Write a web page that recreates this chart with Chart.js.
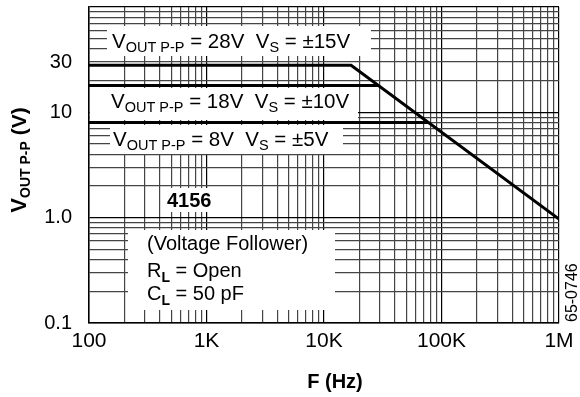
<!DOCTYPE html>
<html>
<head>
<meta charset="utf-8">
<script src="https://cdn.jsdelivr.net/npm/chart.js@4"></script>
<style>
  html, body { margin: 0; padding: 0; background: #fff; }
  canvas { display: block; }
</style>
</head>
<body>
<canvas id="chart" width="580" height="397"></canvas>
<script>
// Output swing vs frequency, one curve per supply voltage
const supplyVolts = [15, 10, 5];
const swingVolts = [28, 18, 8];
const curve15Freq = [100, 17000, 1000000];
const curve15Volts = [28, 28, 0.97];
const curve10Freq = [100, 29000];
const curve10Volts = [18, 18];
const curve5Freq = [100, 77600];
const curve5Volts = [8, 8];

// Grid lines (1..9 per decade) and the labelled ones
const xGrid = [100, 200, 300, 400, 500, 600, 700, 800, 900,
               1000, 2000, 3000, 4000, 5000, 6000, 7000, 8000, 9000,
               10000, 20000, 30000, 40000, 50000, 60000, 70000, 80000, 90000,
               100000, 200000, 300000, 400000, 500000, 600000, 700000, 800000, 900000,
               1000000];
const xTickValues = [100, 1000, 10000, 100000, 1000000];
const xTickLabels = ['100', '1K', '10K', '100K', '1M'];
const yGrid = [0.1, 0.2, 0.3, 0.4, 0.5, 0.6, 0.7, 0.8, 0.9,
               1, 2, 3, 4, 5, 6, 7, 8, 9,
               10, 20, 30, 40, 50, 60, 70, 80, 90, 100];
const yTickValues = [0.1, 1, 10, 30];
const yTickLabels = ['0.1', '1.0', '10', '30'];
const yDecades = [0.1, 1, 10, 100];

const FONT = '"Liberation Sans", Arial, Helvetica, sans-serif';

const toPoints = (xs, ys) => xs.map((x, i) => ({ x: x, y: ys[i] }));

// draws a run of text pieces (text, size, bold, baseline shift) left to right
function drawRuns(ctx, runs, x, y) {
    let cx = x;
    runs.forEach(([t, size, bold, dy]) => {
        ctx.font = (bold ? 'bold ' : '') + size + 'px ' + FONT;
        ctx.fillText(t, cx, y + (dy || 0));
        cx += ctx.measureText(t).width;
    });
    return cx - x;
}

function runsWidth(ctx, runs) {
    let w = 0;
    runs.forEach(([t, size, bold]) => {
        ctx.font = (bold ? 'bold ' : '') + size + 'px ' + FONT;
        w += ctx.measureText(t).width;
    });
    return w;
}

const swingRuns = (i) => [
    ['V', 20.5], ['OUT P-P', 14.5, false, 4],
    [' = ' + swingVolts[i] + 'V  V', 20.5], ['S', 14.5, false, 4],
    [' = \u00b1' + supplyVolts[i] + 'V', 20.5]
];

// white panels behind the notes (x, y, w, h)
const panels = [
    [107, 26, 264, 30],
    [90, 88, 268, 32],
    [110, 125, 233, 29],
    [165, 188, 48, 24],
    [128, 230, 207, 80]
];

const notesPlugin = {
    id: 'notes',
    beforeDatasetsDraw(chart) {
        const ctx = chart.ctx;
        ctx.save();
        ctx.fillStyle = '#fff';
        panels.forEach(([x, y, w, h]) => ctx.fillRect(x, y, w, h));

        ctx.fillStyle = '#000';
        ctx.textAlign = 'left';
        ctx.textBaseline = 'alphabetic';
        drawRuns(ctx, swingRuns(0), 112, 48);
        drawRuns(ctx, swingRuns(1), 111, 108);
        drawRuns(ctx, swingRuns(2), 113, 146);

        drawRuns(ctx, [['4156', 20, true]], 167, 207);
        drawRuns(ctx, [['(Voltage Follower)', 20]], 147, 250);
        drawRuns(ctx, [['R', 20], ['L', 14, true, 5], [' = Open', 20]], 147, 277);
        drawRuns(ctx, [['C', 20], ['L', 14, true, 5], [' = 50 pF', 20]], 147, 300);
        ctx.restore();
    },
    afterDraw(chart) {
        const ctx = chart.ctx;
        ctx.save();
        ctx.fillStyle = '#000';
        ctx.textBaseline = 'alphabetic';

        // y axis title with subscript, rotated
        const yTitle = [['V', 22, true], ['OUT P-P', 14, true, 4], [' (V)', 21, true]];
        ctx.translate(26, 160);
        ctx.rotate(-Math.PI / 2);
        drawRuns(ctx, yTitle, -runsWidth(ctx, yTitle) / 2, 0);
        ctx.restore();

        ctx.save();
        ctx.fillStyle = '#000';
        ctx.font = 'bold 20px ' + FONT;
        ctx.textAlign = 'center';
        ctx.fillText('F (Hz)', 335, 388);

        // drawing number along the right edge
        ctx.font = '16px ' + FONT;
        ctx.textAlign = 'left';
        ctx.translate(577, 322);
        ctx.rotate(-Math.PI / 2);
        ctx.fillText('65-0746', 0, 0);
        ctx.restore();
    }
};

const lineSet = (data) => ({
    data: data,
    borderColor: '#000',
    borderWidth: 3,
    pointRadius: 0,
    fill: false,
    tension: 0
});

new Chart(document.getElementById('chart').getContext('2d'), {
    type: 'line',
    data: {
        datasets: [
            lineSet(toPoints(curve15Freq, curve15Volts)),
            lineSet(toPoints(curve10Freq, curve10Volts)),
            lineSet(toPoints(curve5Freq, curve5Volts))
        ]
    },
    options: {
        responsive: false,
        animation: false,
        devicePixelRatio: 1,
        layout: { padding: { top: 7, right: 21, left: 0, bottom: 0 } },
        plugins: {
            legend: { display: false },
            tooltip: { enabled: false }
        },
        scales: {
            x: {
                type: 'logarithmic',
                min: 100,
                max: 1000000,
                afterBuildTicks: (s) => { s.ticks = xGrid.map(v => ({ value: v })); },
                afterFit: (s) => {
                    s.height = 74;
                    s.paddingLeft = 0;
                    s.paddingRight = 0;
                },
                ticks: {
                    autoSkip: false,
                    maxRotation: 0,
                    minRotation: 0,
                    padding: 6,
                    color: '#000',
                    font: { family: FONT, size: 21 },
                    callback: (v) => {
                        const i = xTickValues.indexOf(v);
                        return i >= 0 ? xTickLabels[i] : '';
                    }
                },
                grid: {
                    drawTicks: false,
                    color: (c) => (c.tick && xTickValues.includes(c.tick.value)) ? '#000' : '#444',
                    lineWidth: 1.2
                },
                border: { color: '#000', width: 1.5 }
            },
            y: {
                type: 'logarithmic',
                min: 0.1,
                max: 100,
                afterBuildTicks: (s) => { s.ticks = yGrid.map(v => ({ value: v })); },
                afterFit: (s) => {
                    s.width = 89;
                    s.paddingTop = 0;
                    s.paddingBottom = 0;
                },
                ticks: {
                    autoSkip: false,
                    padding: 17,
                    color: '#000',
                    font: { family: FONT, size: 20 },
                    callback: (v) => {
                        const i = yTickValues.indexOf(v);
                        return i >= 0 ? yTickLabels[i] : '';
                    }
                },
                grid: {
                    drawTicks: false,
                    color: (c) => (c.tick && yDecades.includes(c.tick.value)) ? '#000' : '#444',
                    lineWidth: 1.2
                },
                border: { color: '#000', width: 1.5 }
            }
        }
    },
    plugins: [notesPlugin]
});
</script>
</body>
</html>
